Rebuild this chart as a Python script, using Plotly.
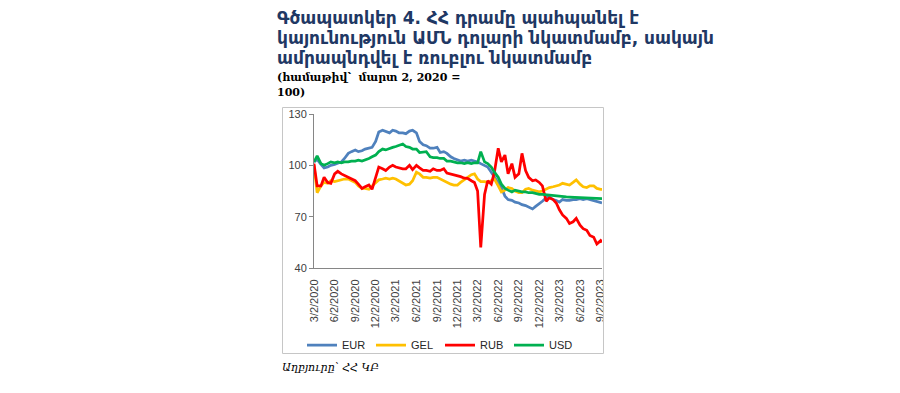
import datetime as dt
import plotly.graph_objects as go

# ---------------- data ----------------
# semi-monthly observation dates (2nd and 16th of each month), last point 8 Sep 2023
dates = []
for m in range(43):
    y = 2020 + (2 + m) // 12
    mo = (2 + m) % 12 + 1
    dates.append(dt.date(y, mo, 2))
    dates.append(dt.date(y, mo, 16))
dates[-1] = dt.date(2023, 9, 8)

eur = [102, 103.5, 100.5, 98.5, 99, 100, 100.5, 101, 102, 104, 107, 108, 109, 108, 108.5, 109.5,
       110, 110.5, 114, 119.5, 120.5, 120, 119, 120.5, 120, 119, 119, 118.5, 120, 120.5, 119, 114,
       112, 111.5, 110, 110, 110.5, 107.5, 108, 107, 105, 104, 103, 102.5, 103, 102.5, 103, 102.5,
       102, 101, 100, 99, 96, 93, 90, 87, 82, 80, 79.5, 78.5, 78, 77, 76.5, 75.5, 74.5, 76,
       77.5, 79, 81, 81.5, 80, 79.5, 78.5, 80, 79.5, 79.5, 80, 80, 80.5, 80, 80.5, 80, 79.5, 79,
       78.5, 78]
gel = [100, 84, 88, 90, 89.5, 91, 90.5, 91, 91.5, 92, 92, 91, 90, 88, 86.5, 86.5,
       86, 88, 90, 91.5, 92, 92.5, 92, 92.5, 92, 91, 89.5, 88.5, 89, 91, 96, 95,
       93, 93, 92.5, 93, 93, 92, 91, 90, 89, 88.5, 88.5, 90, 91.5, 93, 94.5, 95,
       92, 90.5, 90.5, 90, 91, 92, 88, 84.5, 85.5, 87, 86.5, 85, 84, 84, 86, 86.5,
       85.5, 85, 84.5, 85, 86, 87, 87.5, 88, 88.5, 89.5, 89, 88.5, 90, 91.5, 89, 87.5,
       87, 88, 88, 86.5, 86, 86]
rub = [101, 88, 88, 93, 90, 89.5, 95, 96.5, 95, 94, 93, 92, 91, 89, 86.5, 87.5,
       88.5, 86, 93, 99, 98, 97, 99, 100, 99, 98.5, 98, 98, 100, 97.5, 100, 98.5,
       97, 97, 96.5, 98, 97, 97, 98, 95.5, 95, 94.3, 94, 93.4, 92.5, 92.4, 91, 90,
       85, 52, 83, 91, 89, 96, 110, 102, 106, 95, 101, 93, 95, 107, 97, 93,
       91, 91.5, 90, 88, 79, 81, 80, 78, 74, 71, 69, 66, 67, 69, 65, 63,
       62, 59, 58, 54, 56, 55]
usd = [102, 105.5, 101, 100, 101, 102, 101.5, 102, 101.5, 102, 102, 102.5, 102.5, 103, 102.5, 103,
       104, 105, 106, 108, 109.5, 109, 110, 110.5, 111, 111.5, 112.5, 111, 110.5, 109.5, 109.5, 107.5,
       108, 108, 105, 104.5, 104.5, 104, 104, 102.5, 102.5, 102, 101.5, 101.5, 101, 101.5, 101, 101.5,
       101.5, 108, 102, 101, 99, 96, 93, 89, 86.5, 85.5, 84.5, 85.5, 85, 84.5, 84.5, 84,
       84, 83.5, 83, 83, 82.7, 82.5, 82.3, 82, 81.8, 81.6, 81.5, 81.4, 81.3, 81.2, 81.1, 81,
       81, 80.9, 80.8, 80.7, 80.6, 80.5]

series_names = ["EUR", "GEL", "RUB", "USD"]
series_values = [eur, gel, rub, usd]
series_colors = ["#4F81BD", "#FFC000", "#FF0000", "#00B050"]

tick_dates = ["2020-03-02", "2020-06-02", "2020-09-02", "2020-12-02", "2021-03-02", "2021-06-02",
              "2021-09-02", "2021-12-02", "2022-03-02", "2022-06-02", "2022-09-02", "2022-12-02",
              "2023-03-02", "2023-06-02", "2023-09-02"]
tick_labels = ["3/2/2020", "6/2/2020", "9/2/2020", "12/2/2020", "3/2/2021", "6/2/2021",
               "9/2/2021", "12/2/2021", "3/2/2022", "6/2/2022", "9/2/2022", "12/2/2022",
               "3/2/2023", "6/2/2023", "9/2/2023"]
y_ticks = [40, 70, 100, 130]

title_lines = ["Գծապատկեր 4. ՀՀ դրամը պահպանել է",
               "կայունություն ԱՄՆ դոլարի նկատմամբ, սակայն",
               "ամրապնդվել է ռուբլու նկատմամբ"]
subtitle_lines = ["(համաթիվ՝  մարտ 2, 2020 =", "100)"]
source_text = "Աղբյուրը՝ ՀՀ ԿԲ"

# ---------------- layout geometry ----------------
# the page body has an 8px default margin: the figure is drawn from (8, 8)
OX, OY = 8, 8
W, H = 900 - OX, 393 - OY
# plot area in screen pixels
SL, SR, ST, SB = 314, 602, 114, 268
L, R, T, B = SL - OX, SR - OX, ST - OY, SB - OY


def px2x(px):  # screen pixel -> paper x
    return (px - SL) / (SR - SL)


def px2y(py):  # screen pixel -> paper y
    return (SB - py) / (SB - ST)


fig = go.Figure()
for name, vals, col in zip(series_names, series_values, series_colors):
    fig.add_trace(go.Scatter(x=dates, y=vals, name=name, mode="lines",
                             line=dict(color=col, width=2.75)))

axis_col = "#868686"
fig.update_layout(
    width=W, height=H,
    margin=dict(l=L, r=W - R, t=T, b=H - B, pad=0, autoexpand=False),
    paper_bgcolor="white", plot_bgcolor="white",
    showlegend=True,
    legend=dict(orientation="h", xref="container", yref="container",
                x=(302 - OX) / W, xanchor="left", y=1 - (345 - OY) / H, yanchor="middle",
                font=dict(family="Liberation Sans", size=11, color="#262626"),
                entrywidth=24, entrywidthmode="pixels", bgcolor="rgba(0,0,0,0)"),
    xaxis=dict(type="date", range=["2020-03-02", "2023-09-08"], tickvals=tick_dates,
               ticktext=tick_labels, tickangle=-90, showgrid=False, zeroline=False,
               showline=True, linecolor=axis_col, linewidth=1, ticks="",
               ticklabelstandoff=6,
               tickfont=dict(family="Liberation Sans", size=11, color="#404040")),
    yaxis=dict(range=[40, 130], tickvals=y_ticks, showgrid=False, zeroline=False,
               showline=True, linecolor=axis_col, linewidth=1, ticks="outside",
               ticklen=4, tickcolor=axis_col,
               tickfont=dict(family="Liberation Sans", size=11, color="#404040")),
)

shapes = [
    # mask clipping the last date label at the chart frame
    dict(type="rect", xref="paper", yref="paper", x0=px2x(603.5), x1=px2x(625),
         y0=px2y(352), y1=px2y(269), fillcolor="white", line=dict(width=0), layer="above"),
    # chart frame
    dict(type="rect", xref="paper", yref="paper", x0=px2x(282.5), x1=px2x(603.5),
         y0=px2y(353.5), y1=px2y(107.5), line=dict(color="#C6C6C6", width=1),
         fillcolor="rgba(0,0,0,0)", layer="above"),
]
fig.update_layout(shapes=shapes)

ann = []
title_y = [18, 38, 58]
for txt, yy in zip(title_lines, title_y):
    ann.append(dict(text=f"<b>{txt}</b>", x=px2x(275), y=px2y(yy), xref="paper", yref="paper",
                    xanchor="left", yanchor="middle", showarrow=False,
                    font=dict(family="DejaVu Sans", size=17, color="#1F3864")))
sub_y = [77, 93]
for txt, yy in zip(subtitle_lines, sub_y):
    ann.append(dict(text=f"<b>{txt}</b>", x=px2x(275), y=px2y(yy), xref="paper", yref="paper",
                    xanchor="left", yanchor="middle", showarrow=False,
                    font=dict(family="DejaVu Serif", size=11, color="#000000")))
ann.append(dict(text=f"<i>{source_text}</i>", x=px2x(280), y=px2y(367), xref="paper",
                yref="paper", xanchor="left", yanchor="middle", showarrow=False,
                font=dict(family="DejaVu Serif", size=11, color="#000000")))
fig.update_layout(annotations=ann)

fig.write_html("out.html")
